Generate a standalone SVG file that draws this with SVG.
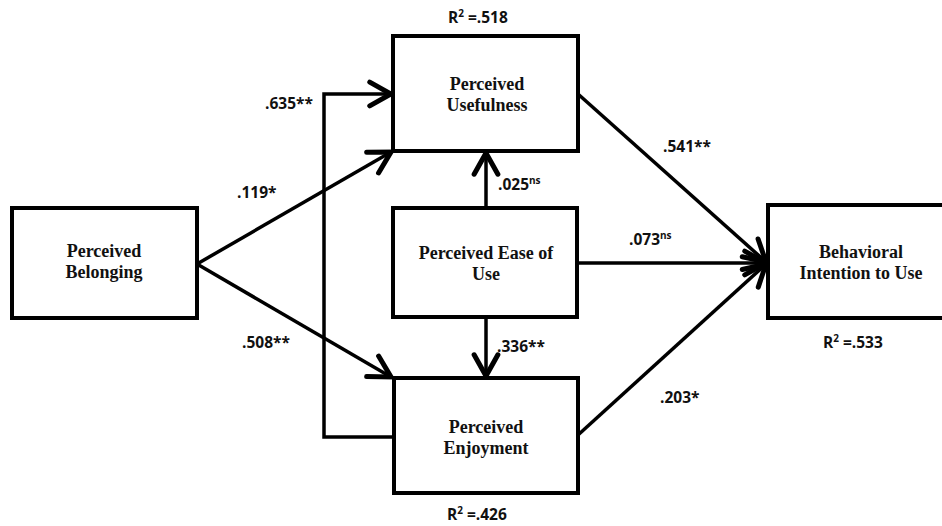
<svg xmlns="http://www.w3.org/2000/svg" width="942" height="526" viewBox="0 0 942 526">
<defs>
<style>
.box{fill:#fff;stroke:#000;stroke-width:4}
.nt{font-family:"Liberation Serif","Times New Roman",serif;font-weight:bold;font-size:18px;text-anchor:middle;fill:#111}
.lb{font-family:"Open Sans","Liberation Sans",sans-serif;font-weight:bold;font-size:15.5px;fill:#111}
.sup{font-size:10px}
.ln{fill:none;stroke:#000;stroke-width:3.5}
</style>
<marker id="arr" markerUnits="userSpaceOnUse" markerWidth="30" markerHeight="30" viewBox="-20 -12 24 24" refX="0" refY="0" orient="auto">
<path d="M-17,-9.5 L0,0 L-17,9.5" fill="none" stroke="#000" stroke-width="4" stroke-linecap="round" stroke-linejoin="miter"/>
</marker>
</defs>
<rect width="942" height="526" fill="#fff"/>
<g id="connectors">
<path class="ln" d="M394,437 H324 V94 H391" marker-end="url(#arr)"/>
<path class="ln" d="M197,264 L391,152" marker-end="url(#arr)"/>
<path class="ln" d="M197,264 L391,377" marker-end="url(#arr)"/>
<path class="ln" d="M486,208 V153" marker-end="url(#arr)"/>
<path class="ln" d="M486,317 V376" marker-end="url(#arr)"/>
<path class="ln" d="M577,263 H766" marker-end="url(#arr)"/>
<path class="ln" d="M578,94 L766,262" marker-end="url(#arr)"/>
<path class="ln" d="M578,435 L766,264" marker-end="url(#arr)"/>
</g>
<g id="belonging">
<rect class="box" x="12" y="208" width="185" height="110"/>
<text class="nt" x="104" y="257">Perceived</text>
<text class="nt" x="104" y="278">Belonging</text>
</g>
<g id="usefulness">
<rect class="box" x="393" y="36" width="185" height="115"/>
<text class="nt" x="487" y="90">Perceived</text>
<text class="nt" x="487" y="111">Usefulness</text>
</g>
<g id="ease">
<rect class="box" x="393" y="208" width="184" height="109"/>
<text class="nt" x="486" y="259">Perceived Ease of</text>
<text class="nt" x="486" y="280">Use</text>
</g>
<g id="enjoyment">
<rect class="box" x="394" y="378" width="184" height="115"/>
<text class="nt" x="486" y="433">Perceived</text>
<text class="nt" x="486" y="454">Enjoyment</text>
</g>
<g id="intention">
<rect class="box" x="768" y="205" width="180" height="113"/>
<text class="nt" x="861" y="258">Behavioral</text>
<text class="nt" x="861" y="279">Intention to Use</text>
</g>
<g id="labels">
<text class="lb" x="448" y="23">R<tspan class="sup" dy="-6">2</tspan><tspan dy="6"> =.518</tspan></text>
<text class="lb" x="447" y="520">R<tspan class="sup" dy="-6">2</tspan><tspan dy="6"> =.426</tspan></text>
<text class="lb" x="823" y="348">R<tspan class="sup" dy="-6">2</tspan><tspan dy="6"> =.533</tspan></text>
<text class="lb" x="265" y="109">.635**</text>
<text class="lb" x="237" y="198">.119*</text>
<text class="lb" x="242" y="348">.508**</text>
<text class="lb" x="663" y="152">.541**</text>
<text class="lb" x="629" y="245">.073<tspan class="sup" dy="-6">ns</tspan></text>
<text class="lb" x="498" y="190">.025<tspan class="sup" dy="-6">ns</tspan></text>
<text class="lb" x="497" y="352">.336**</text>
<text class="lb" x="660" y="403">.203*</text>
</g>
</svg>
